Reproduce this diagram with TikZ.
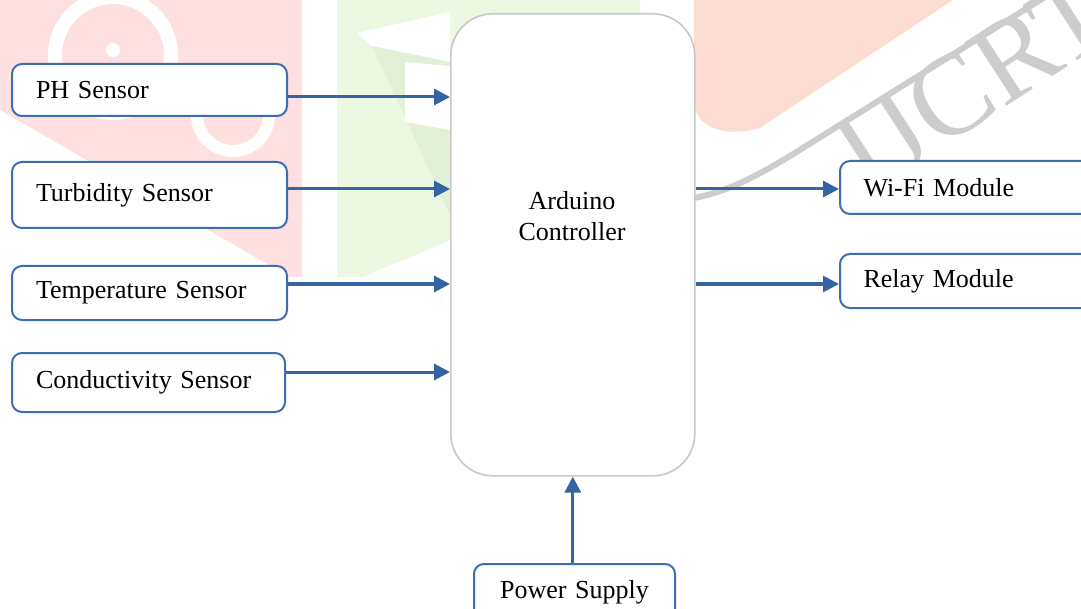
\documentclass[tikz,border=0pt]{standalone}
\usepackage{fontspec}
\setmainfont{Liberation Serif}
\usetikzlibrary{arrows.meta}
\definecolor{lineblue}{RGB}{52,100,164}
\definecolor{boxblue}{RGB}{62,110,178}
\definecolor{ardgray}{RGB}{200,200,200}
\definecolor{wmpink}{RGB}{255,224,224}
\definecolor{wmgreen}{RGB}{236,248,226}
\definecolor{wmgreendark}{RGB}{226,240,216}
\definecolor{wmsalmon}{RGB}{253,221,211}
\definecolor{wmgray}{RGB}{205,205,205}
\tikzset{
  blockbox/.style={draw=boxblue, line width=1pt, fill=white, rounded corners=5pt,
    anchor=north west, inner xsep=12pt, inner ysep=0pt, align=left,
    font=\fontsize{13}{15.5}\selectfont},
  arr/.style={draw=lineblue, line width=1.5pt, -{Triangle[length=8pt,width=8pt]}},
}
\begin{document}
\begin{tikzpicture}[x=0.5pt,y=-0.5pt]
\useasboundingbox (0,0) rectangle (1081,609);
\clip (0,0) rectangle (1081,609);
% watermark
\fill[wmpink] (0,0) -- (302,0) -- (302,277) -- (290,277) -- (0,110) -- cycle;
\draw[white, line width=7pt] (113,55) circle[radius=58];
\fill[white] (113,50) circle[radius=7];
\draw[white, line width=6pt] (233,115) circle[radius=36];
\fill[wmgreen] (337,0) -- (640,0) -- (640,160) -- (363,277) -- (337,277) -- cycle;
\fill[white] (357,33) -- (450,12) -- (450,62) -- (372,46) -- cycle;
\fill[wmgreendark] (372,46) -- (450,62) -- (450,215) -- cycle;
\fill[white] (405,62) -- (450,66) -- (450,130) -- (405,122) -- cycle;
\fill[wmsalmon] (694,0) -- (953,0) -- (760,128) .. controls (725,138) and (694,128) .. (694,100) -- cycle;
\draw[wmgray, line width=3pt] (694,198) .. controls (725,192) and (750,180) .. (790,156) -- (1045,-3);
\node[wmgray, rotate=33, anchor=base west, font=\fontsize{58}{58}\selectfont] (wm) at (862,200) {IJCRT};
% main blocks
\node[blockbox, minimum width=137.5pt, text width=113.5pt, minimum height=26pt] (ph) at (11,63) {PH Sensor};
\node[blockbox, minimum width=137.5pt, text width=113.5pt, minimum height=33pt] (turb) at (11,161) {Turbidity Sensor};
\node[blockbox, minimum width=137.5pt, text width=113.5pt, minimum height=27pt] (temp) at (11,265) {Temperature Sensor};
\node[blockbox, minimum width=136.5pt, text width=112.5pt, minimum height=29.5pt] (cond) at (11,352) {Conductivity Sensor};
\node[draw=ardgray, line width=0.8pt, fill=white, rounded corners=21pt, anchor=north west,
      minimum width=122pt, minimum height=231pt, inner sep=0pt] (ard) at (450,13) {};
\node[font=\fontsize{13}{15.5}\selectfont, align=center] (ardtxt) at (572,216) {Arduino\\Controller};
\node[blockbox, minimum width=137.5pt, text width=114pt, minimum height=26.5pt, inner xsep=11.5pt] (wifi) at (839,160) {Wi-Fi Module};
\node[blockbox, minimum width=137.5pt, text width=114pt, minimum height=27pt, inner xsep=11.5pt] (relay) at (839,253) {Relay Module};
\node[blockbox, minimum width=100.5pt, text width=100.5pt, minimum height=28pt, inner xsep=0pt, align=center] (power) at (473,563) {Power Supply};
% connectors
\draw[arr] ([yshift=-3.5pt]ph.east) -- ([yshift=-3.5pt]ph.east -| ard.west);
\draw[arr] ([yshift=3pt]turb.east) -- ([yshift=3pt]turb.east -| ard.west);
\draw[arr] ([yshift=4.5pt]temp.east) -- ([yshift=4.5pt]temp.east -| ard.west);
\draw[arr] ([yshift=5.25pt]cond.east) -- ([yshift=5.25pt]cond.east -| ard.west);
\draw[arr] ([yshift=-0.75pt]wifi.west -| ard.east) -- ([yshift=-0.75pt]wifi.west);
\draw[arr] ([yshift=-1.5pt]relay.west -| ard.east) -- ([yshift=-1.5pt]relay.west);
\draw[arr] (power.north -| ard.south) -- (ard.south);
\end{tikzpicture}
\end{document}
